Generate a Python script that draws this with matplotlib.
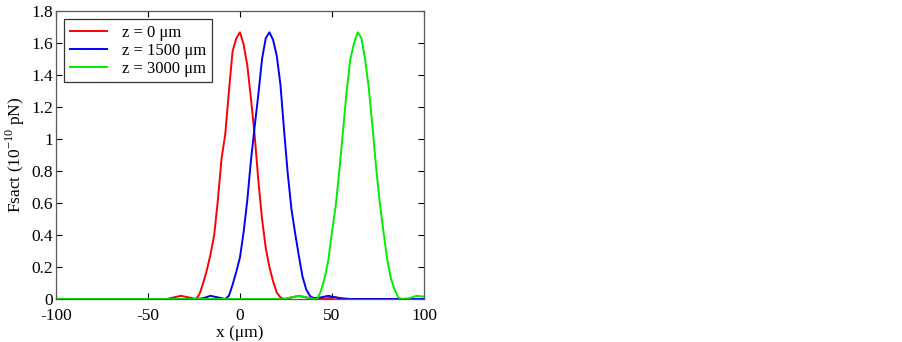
import matplotlib
matplotlib.use("Agg")
import matplotlib.pyplot as plt

plt.rcParams['font.family'] = ['Liberation Serif', 'DejaVu Serif']
plt.rcParams['mathtext.fontset'] = 'custom'
plt.rcParams['mathtext.rm'] = 'Liberation Serif'

red_x = [-100, -40, -36, -32, -28, -24, -22, -20, -18, -16, -14, -12, -10, -8, -6, -4, -2, 0,
         2, 4, 6, 8, 10, 12, 14, 16, 18, 20, 22, 24, 28, 32, 36, 40, 44, 48, 52, 56, 60, 100]
red_y = [0, 0, 0.01, 0.02, 0.01, 0.0, 0.03, 0.1, 0.18, 0.28, 0.4, 0.62, 0.88, 1.03, 1.3, 1.55, 1.63, 1.667,
         1.59, 1.46, 1.25, 1.02, 0.74, 0.5, 0.32, 0.2, 0.11, 0.04, 0.01, 0.0, 0.01, 0.02, 0.01, 0, 0, 0.005, 0.01, 0.005, 0, 0]

blue_x = [-100, -24, -20, -16, -12, -8, -6, -4, -2, 0, 2, 4, 6, 8, 10, 12, 14, 16, 18, 20, 22, 24,
          26, 28, 30, 32, 34, 36, 38, 40, 44, 48, 52, 56, 100]
blue_y = [0, 0, 0.005, 0.02, 0.01, 0, 0.02, 0.09, 0.17, 0.26, 0.42, 0.62, 0.87, 1.08, 1.28, 1.5, 1.63, 1.667, 1.62, 1.52, 1.34, 1.05,
          0.78, 0.56, 0.41, 0.27, 0.14, 0.06, 0.02, 0.005, 0.01, 0.02, 0.01, 0.0, 0]

green_x = [-100, 24, 28, 32, 36, 40, 42, 44, 46, 48, 50, 52, 54, 56, 58, 60, 62, 64, 66, 68, 70, 72,
           74, 76, 78, 80, 82, 84, 86, 88, 92, 96, 100]
green_y = [0, 0, 0.01, 0.02, 0.01, 0, 0, 0.05, 0.13, 0.24, 0.42, 0.58, 0.8, 1.05, 1.3, 1.5, 1.6, 1.667, 1.63, 1.5, 1.32, 1.08,
           0.82, 0.6, 0.42, 0.25, 0.13, 0.06, 0.01, 0, 0.005, 0.02, 0.015]

labels = ['z = 0 μm', 'z = 1500 μm', 'z = 3000 μm']
x_ticks = [-100, -50, 0, 50, 100]
y_ticks = [0, 0.2, 0.4, 0.6, 0.8, 1, 1.2, 1.4, 1.6, 1.8]
y_ticklabels = ['0', '0.2', '0.4', '0.6', '0.8', '1', '1.2', '1.4', '1.6', '1.8']

fig = plt.figure(figsize=(9.03, 3.42), dpi=100)
ax = fig.add_axes([0.062, 0.1257, 0.4075, 0.842])

ax.plot(red_x, red_y, color='#ff0000', lw=1.4, label=labels[0])
ax.plot(blue_x, blue_y, color='#0000ff', lw=1.4, label=labels[1])
ax.plot(green_x, green_y, color='#00ee00', lw=1.4, label=labels[2])

ax.set_xlim(-100, 100)
ax.set_ylim(0, 1.8)
ax.set_xticks(x_ticks)
ax.set_xticklabels([str(t) for t in x_ticks])
ax.set_yticks(y_ticks)
ax.set_yticklabels(y_ticklabels)
ax.tick_params(direction='in', top=True, right=True, labelsize=12.5, length=4, width=0.8, colors='black')
ax.tick_params(axis='x', pad=6.5)
ax.tick_params(axis='y', pad=2)
for s in ax.spines.values():
    s.set_color('0.35')
    s.set_linewidth(0.9)

ax.set_xlabel('x (μm)', fontsize=12.5, labelpad=0.5)
ax.set_ylabel('Fsact (10$^{-10}$ pN)', fontsize=12.5, labelpad=3)

leg = ax.legend(loc='upper left', fontsize=12, frameon=True, fancybox=False, handlelength=2.2,
                handletextpad=0.9, borderpad=0.35, labelspacing=0.1, borderaxespad=0.5)
leg.get_frame().set_edgecolor('black')
leg.get_frame().set_linewidth(0.9)

fig.savefig('out.png', dpi=100)
